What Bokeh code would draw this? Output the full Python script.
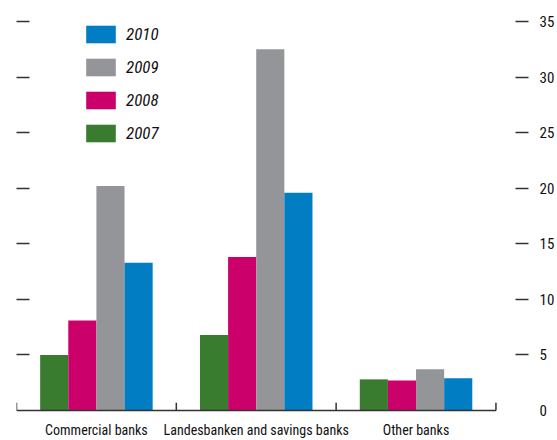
from bokeh.plotting import figure
from bokeh.models import (ColumnDataSource, Range1d, LinearAxis, FixedTicker,
                          Legend, LegendItem)
from bokeh.core.properties import value
from bokeh.transform import dodge
from bokeh.embed import file_html
from bokeh.resources import INLINE

categories = ["Commercial banks", "Landesbanken and savings banks", "Other banks"]
years = ["2007", "2008", "2009", "2010"]
v2007 = [5.0, 6.8, 2.8]
v2008 = [8.1, 13.8, 2.7]
v2009 = [20.2, 32.5, 3.7]
v2010 = [13.3, 19.6, 2.9]
dash_ticks = [5, 10, 15, 20, 25, 30, 35]
label_ticks = [0, 5, 10, 15, 20, 25, 30, 35]

colors = {"2007": "#3a7c2f", "2008": "#cc006b", "2009": "#949599", "2010": "#007dc3"}
FONT = "Roboto Condensed"
AX = "#333333"
TXT = "#111111"

xs = list(range(len(categories)))
src = ColumnDataSource(dict(x=xs, cat=categories, base=[0] * len(xs), y2007=v2007,
                            y2008=v2008, y2009=v2009, y2010=v2010))

x_end = len(categories) - 0.5 + 0.2037
p = figure(width=557, height=440, x_range=Range1d(-0.5, x_end), y_range=Range1d(-2.7, 35),
           output_backend="svg", toolbar_location=None,
           x_axis_location=None, y_axis_location=None,
           min_border_left=16, min_border_top=21, min_border_right=22, min_border_bottom=0)
p.outline_line_color = None
p.xgrid.visible = False
p.ygrid.visible = False

bw = 0.176
offsets = [-1.5 * bw, -0.5 * bw, 0.5 * bw, 1.5 * bw]
renderers = {}
for yr, off in zip(years, offsets):
    renderers[yr] = p.vbar(x=dodge("x", off, range=p.x_range), top="y" + yr, width=bw,
                           source=src, fill_color=colors[yr], line_color=None)

# baseline and category boundary ticks
bounds = [i - 0.5 for i in range(len(categories) + 1)]
p.segment(x0=[bounds[0]], y0=[0], x1=[bounds[-1]], y1=[0], line_color=AX, line_width=1.5)
p.segment(x0=bounds, y0=[0] * len(bounds), x1=bounds, y1=[0.7] * len(bounds),
          line_color=AX, line_width=1.5)

# category labels below the baseline
p.text(x="x", y="base", text="cat", source=src, y_offset=20, text_align="center",
       text_baseline="middle", text_font=value(FONT), text_font_size="14px",
       text_color=TXT)

blank = {t: "" for t in dash_ticks}

# left axis: dashes only
left = LinearAxis(ticker=FixedTicker(ticks=dash_ticks), axis_line_color=None,
                  major_tick_in=13, major_tick_out=0, minor_tick_line_color=None,
                  major_tick_line_color=AX, major_tick_line_width=1.5,
                  major_label_overrides=blank, major_label_standoff=0)
p.add_layout(left, "left")

# right side: inner axis with dashes, outer axis with labels
right_d = LinearAxis(ticker=FixedTicker(ticks=dash_ticks), axis_line_color=None,
                     major_tick_in=13, major_tick_out=0, minor_tick_line_color=None,
                     major_tick_line_color=AX, major_tick_line_width=1.5,
                     major_label_overrides=blank, major_label_standoff=0)
p.add_layout(right_d, "right")
right_l = LinearAxis(ticker=FixedTicker(ticks=label_ticks), axis_line_color=None,
                     major_tick_line_color=None, minor_tick_line_color=None,
                     major_label_text_font=FONT, major_label_text_font_size="15px",
                     major_label_text_color=TXT, major_label_standoff=5)
p.add_layout(right_l, "right")

items = [LegendItem(label=yr, renderers=[renderers[yr]]) for yr in reversed(years)]
legend = Legend(items=items, location=(66, 296), orientation="vertical",
                glyph_width=37, glyph_height=22, spacing=11, padding=0, margin=0,
                label_standoff=7, label_height=22, label_text_font=FONT,
                label_text_font_size="17px", label_text_font_style="italic",
                label_text_color=TXT, border_line_color=None, background_fill_alpha=0)
p.add_layout(legend, "center")

open("out.html", "w").write(file_html(p, INLINE))
